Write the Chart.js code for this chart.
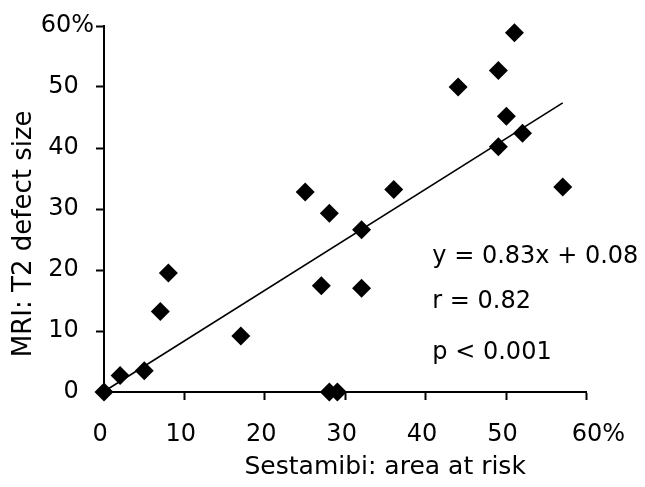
<!DOCTYPE html>
<html>
<head>
<meta charset="utf-8">
<script src="https://cdn.jsdelivr.net/npm/chart.js@4/dist/chart.umd.min.js"></script>
<style>
  html, body { margin: 0; padding: 0; background: #fff; }
  canvas { display: block; }
</style>
</head>
<body>
<canvas id="c" width="645" height="487"></canvas>
<script>
// ---- data ----
const sestamibiAreaAtRisk = [0, 2, 5, 7, 8, 17, 25, 27, 28, 28, 29, 32, 32, 36, 44, 49, 49, 50, 51, 52, 57];
const mriT2DefectSize     = [0, 2.7, 3.5, 13.2, 19.5, 9.2, 32.8, 17.4, 29.3, 0, 0, 26.6, 17.0, 33.2, 50, 52.7, 40.2, 45.2, 58.9, 42.4, 33.6];
const trendX = [0, 57];
const trendY = [0.08, 47.39];
const xTickLabels = ['0', '10', '20', '30', '40', '50', '60%'];
const yTickLabels = ['0', '10', '20', '30', '40', '50', '60%'];
const statsLines = ['y = 0.83x + 0.08', 'r = 0.82', 'p < 0.001'];
const xTitle = 'Sestamibi: area at risk';
const yTitle = 'MRI: T2 defect size';

const FONT = '"DejaVu Sans", Verdana, sans-serif';

const points = sestamibiAreaAtRisk.map((x, i) => ({ x: x, y: mriT2DefectSize[i] }));
const trend = trendX.map((x, i) => ({ x: x, y: trendY[i] }));

const statsPlugin = {
  id: 'statsText',
  afterDatasetsDraw(chart, args, opts) {
    const { ctx, scales } = chart;
    ctx.save();
    ctx.fillStyle = '#000';
    ctx.font = opts.size + 'px ' + FONT;
    ctx.textAlign = 'left';
    ctx.textBaseline = 'middle';
    statsLines.forEach((t, i) => {
      ctx.fillText(t, scales.x.getPixelForValue(opts.x), scales.y.getPixelForValue(opts.y[i]));
    });
    ctx.restore();
  }
};

new Chart(document.getElementById('c'), {
  type: 'scatter',
  data: {
    datasets: [
      {
        label: 'points',
        data: points,
        pointStyle: 'rectRot',
        pointRadius: 9.5,
        pointBackgroundColor: '#000',
        pointBorderColor: '#000',
        pointBorderWidth: 0,
        clip: false,
        order: 0
      },
      {
        type: 'line',
        label: 'trend',
        data: trend,
        borderColor: '#000',
        borderWidth: 1.6,
        pointRadius: 0,
        fill: false,
        clip: false,
        order: 1
      }
    ]
  },
  options: {
    responsive: false,
    animation: false,
    devicePixelRatio: 1,
    layout: { padding: { left: 0, top: 26, right: 57, bottom: 0 } },
    plugins: {
      legend: { display: false },
      tooltip: { enabled: false },
      statsText: { x: 40.8, y: [22.2, 14.8, 6.4], size: 24 }
    },
    scales: {
      x: {
        type: 'linear',
        min: 0, max: 60,
        afterFit(s) { s.height = 95; },
        ticks: {
          stepSize: 10,
          color: '#000',
          font: { family: FONT, size: 24 },
          padding: 20,
          maxRotation: 0,
          callback(v, i) {
            const t = xTickLabels[i];
            return t.endsWith('%') ? '   ' + t : t + ' ';
          }
        },
        grid: { drawOnChartArea: false, drawTicks: true, tickLength: 8, tickWidth: 2, tickColor: '#000', color: '#000' },
        border: { display: true, color: '#000', width: 2 },
        title: {
          display: true,
          text: '          ' + xTitle,
          color: '#000',
          font: { family: FONT, size: 25 },
          padding: { top: 0, bottom: 5 }
        }
      },
      y: {
        type: 'linear',
        min: 0, max: 60,
        afterFit(s) { s.width = 104; },
        ticks: {
          stepSize: 10,
          color: '#000',
          font: { family: FONT, size: 24 },
          padding: 2,
          callback(v, i) {
            const t = yTickLabels[i];
            return t.endsWith('%') ? t : t + '  ';
          }
        },
        grid: { drawOnChartArea: false, drawTicks: true, tickLength: 8, tickWidth: 2, tickColor: '#000', color: '#000' },
        border: { display: true, color: '#000', width: 2 },
        title: {
          display: true,
          text: yTitle + '      ',
          color: '#000',
          font: { family: FONT, size: 26 },
          padding: { top: 9, bottom: 0 }
        }
      }
    }
  },
  plugins: [statsPlugin]
});
</script>
</body>
</html>
